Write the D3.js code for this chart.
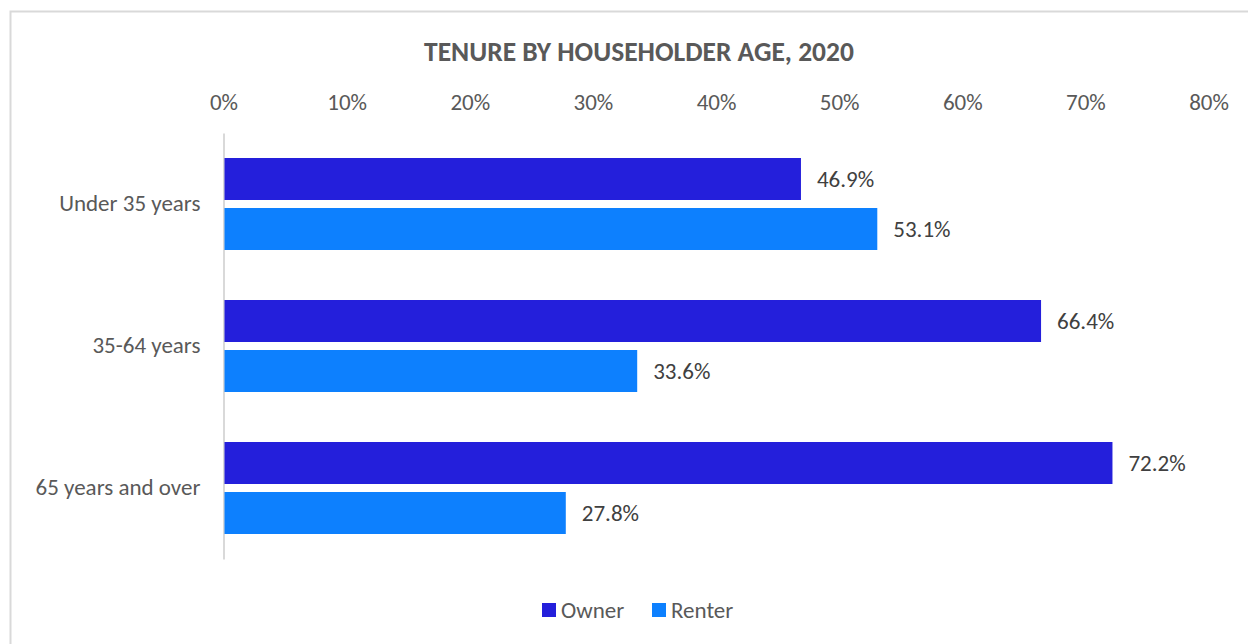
<!DOCTYPE html>
<html>
<head>
<meta charset="utf-8">
<script src="https://cdn.jsdelivr.net/npm/d3@7"></script>
<style>
  body { margin: 0; background: #fff; }
  svg text { font-family: Carlito, Calibri, Lato, sans-serif; }
</style>
</head>
<body>
<div id="chart"></div>
<script>
const categories = ["Under 35 years", "35-64 years", "65 years and over"];
const seriesNames = ["Owner", "Renter"];
const ownerValues = [46.9, 66.4, 72.2];
const renterValues = [53.1, 33.6, 27.8];
const tickValues = [0, 10, 20, 30, 40, 50, 60, 70, 80];
const colors = ["#241fdb", "#0d80fe"];

const width = 1248, height = 644;
const labelSize = 23;

const svg = d3.select("#chart").append("svg")
    .attr("width", width)
    .attr("height", height);

// chart frame
svg.append("rect")
    .attr("x", 10.5).attr("y", 11.5)
    .attr("width", 1300).attr("height", 700)
    .attr("fill", "none")
    .attr("stroke", "#d9d9d9")
    .attr("stroke-width", 2);

svg.append("text")
    .attr("x", 639).attr("y", 61)
    .attr("text-anchor", "middle")
    .attr("font-size", 27.5)
    .attr("font-weight", "bold")
    .attr("fill", "#595959")
    .text("TENURE BY HOUSEHOLDER AGE, 2020");

const x = d3.scaleLinear().domain([0, 80]).range([223.5, 1208.5]);
const y0 = d3.scaleBand().domain(categories).range([133, 559]);
const y1 = d3.scaleBand().domain(seriesNames).range([25, 117]).paddingInner(0.16);

const rows = categories.map((c, i) => ({
  cat: c,
  values: [
    { name: "Owner", value: ownerValues[i] },
    { name: "Renter", value: renterValues[i] }
  ]
}));

// top axis
const xAxis = svg.append("g")
    .attr("transform", "translate(0,110)")
    .call(d3.axisTop(x).tickValues(tickValues).tickSize(0).tickPadding(0).tickFormat(d => d + "%"));
xAxis.select(".domain").remove();
xAxis.selectAll("text")
    .attr("font-size", labelSize)
    .attr("fill", "#595959");

// category axis
const yAxis = svg.append("g")
    .attr("transform", "translate(223.5,0)")
    .call(d3.axisLeft(y0).tickSize(0).tickPadding(23));
yAxis.select(".domain")
    .attr("stroke", "#d9d9d9")
    .attr("stroke-width", 2);
yAxis.selectAll("text")
    .attr("font-size", labelSize)
    .attr("fill", "#595959");

const group = svg.append("g").selectAll("g")
    .data(rows)
    .enter().append("g")
    .attr("transform", d => `translate(0,${y0(d.cat)})`);

group.selectAll("rect")
    .data(d => d.values)
    .enter().append("rect")
    .attr("x", x(0) + 1)
    .attr("y", d => y1(d.name))
    .attr("width", d => x(d.value) - x(0) - 1)
    .attr("height", y1.bandwidth())
    .attr("fill", (d, i) => colors[i]);

group.selectAll("text.val")
    .data(d => d.values)
    .enter().append("text")
    .attr("class", "val")
    .attr("x", d => x(d.value) + 16)
    .attr("y", d => y1(d.name) + y1.bandwidth() / 2)
    .attr("dy", "0.35em")
    .attr("font-size", labelSize)
    .attr("fill", "#404040")
    .text(d => d.value.toFixed(1) + "%");

// legend
const legendX = [542, 652];
const legend = svg.append("g").selectAll("g")
    .data(seriesNames)
    .enter().append("g")
    .attr("transform", (d, i) => `translate(${legendX[i]},603)`);
legend.append("rect")
    .attr("width", 14).attr("height", 14)
    .attr("fill", (d, i) => colors[i]);
legend.append("text")
    .attr("x", 19).attr("y", 7)
    .attr("dy", "0.35em")
    .attr("font-size", labelSize)
    .attr("fill", "#595959")
    .text(d => d);
</script>
</body>
</html>
